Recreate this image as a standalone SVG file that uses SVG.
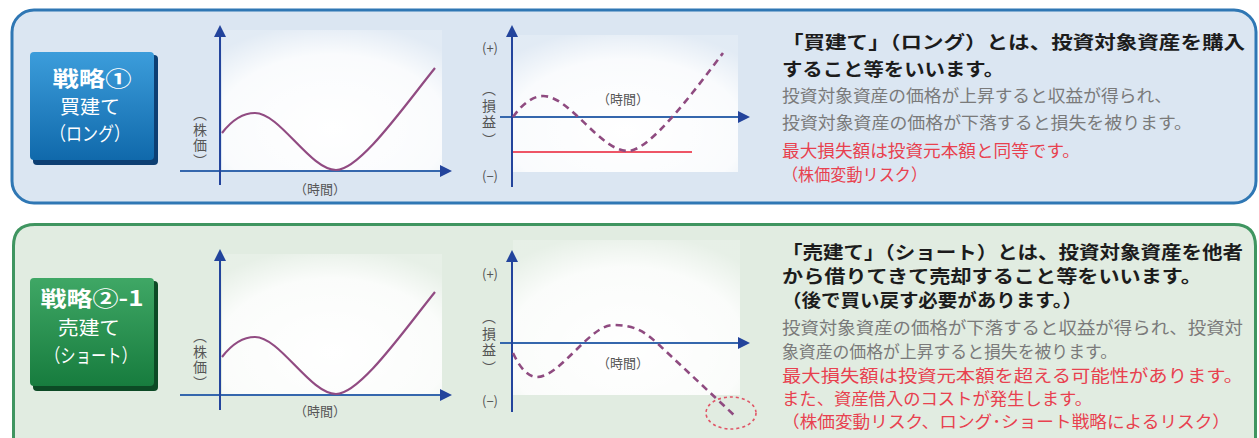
<svg xmlns="http://www.w3.org/2000/svg" width="1259" height="438" viewBox="0 0 1259 438">
<defs>
<style>
text{font-family:"Noto Sans CJK JP","Noto Sans",sans-serif}
.badge{fill:#fff;text-anchor:middle}
.head{font-size:18px;font-weight:700;fill:#1c1c1c}
.gray{font-size:16.5px;fill:#7a7a7a}
.red{font-size:16.5px;fill:#e8414f}
.lbl{font-size:13px;fill:#555}
.v{font-size:14px;fill:#555;text-anchor:middle;dominant-baseline:central}
.yaxis{stroke:#23449c;stroke-width:2;fill:none}
.xaxis{stroke:#3567ad;stroke-width:2;fill:none}
.curve{stroke:#914b82;stroke-width:2.2;fill:none}
.dash{stroke:#8f4b80;stroke-width:2.6;fill:none;stroke-dasharray:7,5}
</style>
<marker id="ah" viewBox="0 0 10 10" refX="5" refY="5" markerWidth="6" markerHeight="6" orient="auto" markerUnits="strokeWidth">
<path d="M0,0 L10,5 L0,10 z" fill="#23449c"/>
</marker>
<linearGradient id="blueBadge" x1="0" y1="0" x2="0" y2="1">
<stop offset="0" stop-color="#3c9ddb"/><stop offset="1" stop-color="#1069ab"/>
</linearGradient>
<linearGradient id="greenBadge" x1="0" y1="0" x2="0" y2="1">
<stop offset="0" stop-color="#3fa765"/><stop offset="1" stop-color="#177c3e"/>
</linearGradient>
<radialGradient id="plotBg" cx="0.5" cy="0.7" r="0.75">
<stop offset="0" stop-color="#ffffff" stop-opacity="1"/><stop offset="0.7" stop-color="#ffffff" stop-opacity="0.85"/><stop offset="1" stop-color="#ffffff" stop-opacity="0.2"/>
</radialGradient>
<g id="lblPrice">
<text class="v" x="0" y="-23">︵</text>
<text class="v" x="0" y="-7">株</text>
<text class="v" x="0" y="8">価</text>
<text class="v" x="0" y="24">︶</text>
</g>
<g id="lblPL">
<text class="v" x="0" y="-26">︵</text>
<text class="v" x="0" y="-9">損</text>
<text class="v" x="0" y="7">益</text>
<text class="v" x="0" y="25">︶</text>
</g>
</defs>

<rect width="1259" height="438" fill="#ffffff"/>

<g id="panel-long">
<rect x="12" y="10" width="1244" height="193" rx="22" fill="#dbe6f2" stroke="#2f77b4" stroke-width="3"/>
</g>
<g id="panel-short">
<path d="M13.5,460 L13.5,246 Q13.5,224.5 35,224.5 L1234,224.5 Q1255.5,224.5 1255.5,246 L1255.5,460" fill="#e1ece1" stroke="#3f9560" stroke-width="3"/>
</g>

<g id="badge-long">
<rect x="33" y="55" width="125" height="110" rx="4" fill="#0d3f73"/>
<rect x="30" y="52" width="124" height="108" rx="4" fill="url(#blueBadge)"/>
<text class="badge" x="92" y="86" font-size="21" font-weight="700" textLength="79" lengthAdjust="spacingAndGlyphs">戦略①</text>
<text class="badge" x="90" y="114" font-size="19" textLength="60" lengthAdjust="spacingAndGlyphs">買建て</text>
<text class="badge" x="90" y="141" font-size="19" textLength="80" lengthAdjust="spacingAndGlyphs">（ロング）</text>
</g>

<g id="badge-short">
<rect x="33" y="281" width="125" height="110" rx="4" fill="#0c4a25"/>
<rect x="30" y="278" width="124" height="108" rx="4" fill="url(#greenBadge)"/>
<text class="badge" x="92" y="306" font-size="21" font-weight="700" textLength="103" lengthAdjust="spacingAndGlyphs">戦略②-1</text>
<text class="badge" x="89" y="335" font-size="19" textLength="62" lengthAdjust="spacingAndGlyphs">売建て</text>
<text class="badge" x="91" y="363" font-size="19" textLength="92" lengthAdjust="spacingAndGlyphs">（ショート）</text>
</g>

<g id="chart-price-long">
<rect x="222" y="30" width="220" height="140" fill="url(#plotBg)"/>
<line class="xaxis" x1="180" y1="171" x2="446" y2="171" marker-end="url(#ah)"/>
<line class="yaxis" x1="220" y1="185" x2="220" y2="31" marker-end="url(#ah)"/>
<path class="curve" d="M222,133 C232,120 244,113 255,113 C280,113 310,170 336,170 C360,170 405,105 435,68"/>
<use href="#lblPrice" x="200" y="136"/>
<text class="lbl" x="320" y="194" text-anchor="middle">（時間）</text>
</g>

<g id="chart-pl-long">
<rect x="513" y="35" width="225" height="137" fill="url(#plotBg)"/>
<line class="xaxis" x1="500" y1="117" x2="744" y2="117" marker-end="url(#ah)"/>
<line class="yaxis" x1="512" y1="187" x2="512" y2="31" marker-end="url(#ah)"/>
<line x1="513" y1="152" x2="692" y2="152" stroke="#ee5566" stroke-width="2"/>
<path class="dash" d="M513,117 C522,104 533,96 543,96 C570,96 600,151 628,151 C650,151 695,90 723,53"/>
<text class="lbl" x="490" y="53" text-anchor="middle" font-size="14">(+)</text>
<text class="lbl" x="490" y="181" text-anchor="middle" font-size="14">(−)</text>
<use href="#lblPL" x="489" y="114"/>
<text class="lbl" x="623" y="104" text-anchor="middle">（時間）</text>
</g>

<g id="text-long">
<text class="head" x="782" y="49" textLength="463" lengthAdjust="spacingAndGlyphs">「買建て」（ロング）とは、投資対象資産を購入</text>
<text class="head" x="782" y="76" textLength="222" lengthAdjust="spacingAndGlyphs">すること等をいいます。</text>
<text class="gray" x="782" y="102" textLength="390" lengthAdjust="spacingAndGlyphs">投資対象資産の価格が上昇すると収益が得られ、</text>
<text class="gray" x="782" y="129" textLength="410" lengthAdjust="spacingAndGlyphs">投資対象資産の価格が下落すると損失を被ります。</text>
<text class="red" x="782" y="157" textLength="298" lengthAdjust="spacingAndGlyphs">最大損失額は投資元本額と同等です。</text>
<text class="red" x="782" y="181" textLength="145" lengthAdjust="spacingAndGlyphs">（株価変動リスク）</text>
</g>

<g id="chart-price-short" transform="translate(0,224)">
<rect x="222" y="30" width="220" height="140" fill="url(#plotBg)"/>
<line class="xaxis" x1="180" y1="171" x2="446" y2="171" marker-end="url(#ah)"/>
<line class="yaxis" x1="220" y1="186" x2="220" y2="31" marker-end="url(#ah)"/>
<path class="curve" d="M222,133 C232,120 244,113 255,113 C280,113 310,170 336,170 C360,170 405,105 435,68"/>
<use href="#lblPrice" x="200" y="134"/>
<text class="lbl" x="320" y="192" text-anchor="middle">（時間）</text>
</g>

<g id="chart-pl-short">
<rect x="513" y="240" width="227" height="155" fill="url(#plotBg)"/>
<line class="xaxis" x1="500" y1="343" x2="744" y2="343" marker-end="url(#ah)"/>
<line class="yaxis" x1="512" y1="412" x2="512" y2="256" marker-end="url(#ah)"/>
<path class="dash" d="M513,353 C520,368 528,377 537,377 C560,377 590,325 613,325 C635,325 645,332 657,343 L735,416"/>
<ellipse cx="731" cy="413" rx="25" ry="16" fill="none" stroke="#e05566" stroke-width="1.6" stroke-dasharray="3,3"/>
<text class="lbl" x="490" y="279" text-anchor="middle" font-size="14">(+)</text>
<text class="lbl" x="490" y="406" text-anchor="middle" font-size="14">(−)</text>
<use href="#lblPL" x="489" y="342"/>
<text class="lbl" x="623" y="368" text-anchor="middle">（時間）</text>
</g>

<g id="text-short">
<text class="head" x="782" y="259" textLength="461" lengthAdjust="spacingAndGlyphs">「売建て」（ショート）とは、投資対象資産を他者</text>
<text class="head" x="782" y="283" textLength="420" lengthAdjust="spacingAndGlyphs">から借りてきて売却すること等をいいます。</text>
<text class="head" x="782" y="307" textLength="300" lengthAdjust="spacingAndGlyphs">（後で買い戻す必要があります。）</text>
<text class="gray" x="782" y="334" textLength="461" lengthAdjust="spacingAndGlyphs">投資対象資産の価格が下落すると収益が得られ、投資対</text>
<text class="gray" x="782" y="358" textLength="335" lengthAdjust="spacingAndGlyphs">象資産の価格が上昇すると損失を被ります。</text>
<text class="red" x="782" y="382" textLength="461" lengthAdjust="spacingAndGlyphs">最大損失額は投資元本額を超える可能性があります。</text>
<text class="red" x="782" y="405" textLength="310" lengthAdjust="spacingAndGlyphs">また、資産借入のコストが発生します。</text>
<text class="red" x="782" y="428" textLength="448" lengthAdjust="spacingAndGlyphs">（株価変動リスク、ロング･ショート戦略によるリスク）</text>
</g>

<g id="connectors"></g>
</svg>
